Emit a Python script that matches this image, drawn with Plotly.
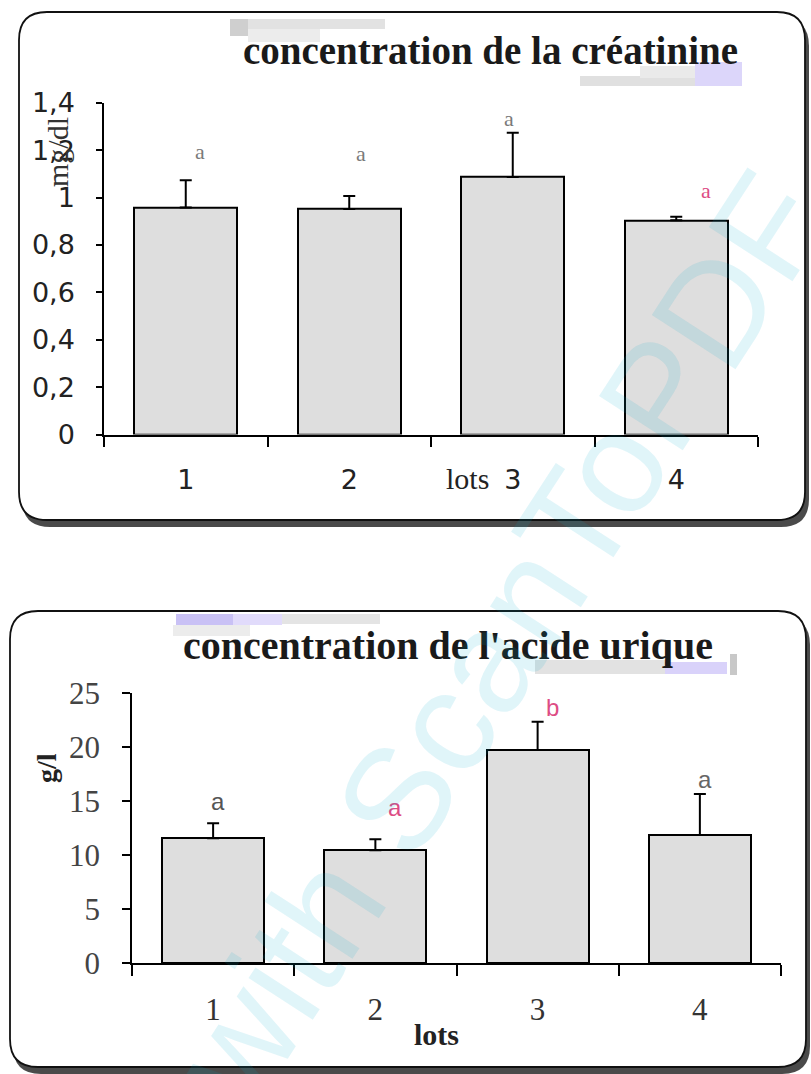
import plotly.graph_objects as go

# ---- data -------------------------------------------------------------
lots = [1, 2, 3, 4]
lot_labels = ["1", "2", "3", "4"]

creat_mean = [0.958, 0.951, 1.087, 0.904]      # mg/dl
creat_err = [0.115, 0.055, 0.186, 0.015]
creat_letters = ["a", "a", "a", "a"]
creat_ticks = [0, 0.2, 0.4, 0.6, 0.8, 1.0, 1.2, 1.4]
creat_ticktext = ["0", "0,2", "0,4", "0,6", "0,8", "1", "1,2", "1,4"]

uric_mean = [11.55, 10.43, 19.72, 11.85]        # g/l
uric_err = [1.39, 1.02, 2.62, 3.80]
uric_letters = ["a", "a", "b", "a"]
uric_ticks = [0, 5, 10, 15, 20, 25]

# ---- page geometry helpers (pixels -> paper) --------------------------
W, H = 811, 1074


def px(x):
    return x / W


def py(y):
    return 1 - y / H


def rounded_rect(x0, y0, x1, y1, r):
    pts = [
        ("M", [(x0 + r, y0)]),
        ("L", [(x1 - r, y0)]),
        ("Q", [(x1, y0), (x1, y0 + r)]),
        ("L", [(x1, y1 - r)]),
        ("Q", [(x1, y1), (x1 - r, y1)]),
        ("L", [(x0 + r, y1)]),
        ("Q", [(x0, y1), (x0, y1 - r)]),
        ("L", [(x0, y0 + r)]),
        ("Q", [(x0, y0), (x0 + r, y0)]),
    ]
    s = ""
    for cmd, ps in pts:
        s += cmd + " " + " ".join(f"{px(a):.5f},{py(b):.5f}" for a, b in ps) + " "
    return s + "Z"


def note(text, x, y, size, family="Liberation Serif", color="#222", angle=0, xref="paper", yref="paper"):
    return dict(text=text, xref=xref, yref=yref, x=x, y=y, textangle=angle,
                xanchor="center", yanchor="middle", showarrow=False,
                font=dict(family=family, size=size, color=color))


BAR_FILL = "#dedede"
PINK = "#dd4c84"
GRAY_TXT = "#7a7a7a"

fig = go.Figure()

fig.add_trace(go.Bar(
    x=lots, y=creat_mean, width=0.63, xaxis="x", yaxis="y",
    marker=dict(color=BAR_FILL, line=dict(color="black", width=2)),
    error_y=dict(type="data", symmetric=False, array=creat_err,
                 arrayminus=[0] * 4, color="black", thickness=2, width=6),
))
fig.add_trace(go.Bar(
    x=lots, y=uric_mean, width=0.63, xaxis="x2", yaxis="y2",
    marker=dict(color=BAR_FILL, line=dict(color="black", width=2)),
    error_y=dict(type="data", symmetric=False, array=uric_err,
                 arrayminus=[0] * 4, color="black", thickness=2, width=6),
))

# ---- panels (rounded frames with drop shadow) ------------------------
shapes = []
for (x0, y0, x1, y1) in [(19, 12, 805, 520), (10, 611, 806, 1067)]:
    shapes.append(dict(type="path", xref="paper", yref="paper", layer="below",
                       path=rounded_rect(x0 + 3, y0 + 6, x1 + 4, y1 + 7, 28),
                       fillcolor="#4a4a4a", line=dict(width=0)))
    shapes.append(dict(type="path", xref="paper", yref="paper", layer="below",
                       path=rounded_rect(x0, y0, x1, y1, 28),
                       fillcolor="white", line=dict(color="#111", width=1.8)))

# faint highlighter marks around the titles
marks = [
    (230, 19, 385, 29, "#e2e2e2"), (230, 19, 248, 36, "#cfcfcf"),
    (248, 29, 320, 42, "#ececec"),
    (580, 76, 695, 86, "#e0e0e0"), (640, 66, 695, 78, "#eaeaea"),
    (695, 62, 742, 86, "#dcd6fa"),
    (176, 614, 233, 625, "#c9c1f5"), (233, 614, 282, 625, "#e1dbfb"),
    (282, 614, 380, 624, "#e4e4e4"), (173, 625, 250, 636, "#ececec"),
    (535, 660, 665, 674, "#e2e2e2"), (665, 662, 727, 674, "#d9d2fa"),
    (730, 654, 737, 675, "#c8c8c8"),
]
for (x0, y0, x1, y1, c) in marks:
    shapes.append(dict(type="rect", xref="paper", yref="paper", layer="below",
                       x0=px(x0), x1=px(x1), y0=py(y1), y1=py(y0),
                       fillcolor=c, line=dict(width=0)))

# ---- annotations -----------------------------------------------------
ann = [
    note("<b>concentration de la créatinine</b>", px(490), py(50), 39, color="#1a1a1a"),
    note("<b>concentration de l'acide urique</b>", px(448), py(645), 40, color="#1a1a1a"),
    note("mg/dl", px(58), py(152), 30, color="#333", angle=-90),
    note("<b>g/l</b>", px(46), py(768), 28, angle=-90),
    note("lots", px(467), py(478), 30),
    note("<b>lots</b>", px(436), py(1034), 30),
]

# significance letters above the error bars
creat_letter_pos = [(0.09, 0.12), (0.07, 0.18), (-0.02, 0.06), (0.18, 0.11)]
creat_letter_col = [GRAY_TXT, GRAY_TXT, GRAY_TXT, PINK]
for i, lot in enumerate(lots):
    dx, dy = creat_letter_pos[i]
    ann.append(note(creat_letters[i], lot + dx, creat_mean[i] + creat_err[i] + dy, 22,
                    color=creat_letter_col[i], xref="x", yref="y"))

uric_letter_pos = [(0.03, 2.0), (0.12, 2.99), (0.09, 1.3), (0.03, 1.35)]
uric_letter_col = ["#555", PINK, PINK, "#666"]
for i, lot in enumerate(lots):
    dx, dy = uric_letter_pos[i]
    ann.append(note(uric_letters[i], lot + dx, uric_mean[i] + uric_err[i] + dy, 24,
                    family="Liberation Sans", color=uric_letter_col[i], xref="x2", yref="y2"))

# scanner watermark
ann.append(note("with ScanToPDF", px(500), py(640), 145, family="Liberation Sans",
                color="rgba(0,175,205,0.12)", angle=-57))

# ---- axes --------------------------------------------------------------
boundaries = [0.5, 1.5, 2.5, 3.5, 4.5]

fig.update_layout(
    width=W, height=H, margin=dict(l=0, r=0, t=0, b=0),
    paper_bgcolor="white", plot_bgcolor="rgba(0,0,0,0)",
    showlegend=False, bargap=0,
    shapes=shapes, annotations=ann,
    xaxis=dict(domain=[px(104), px(758)], anchor="y", range=[0.5, 4.5], automargin=False,
               tickmode="array", tickvals=lots, ticktext=lot_labels,
               ticks="", showgrid=False, zeroline=False,
               showline=True, linecolor="black", linewidth=2,
               minor=dict(tickmode="array", tickvals=boundaries, ticks="outside",
                          ticklen=10, tickwidth=1.5, tickcolor="black", showgrid=False),
               ticklabelstandoff=20,
               tickfont=dict(family="DejaVu Sans", size=27, color="#222")),
    yaxis=dict(domain=[py(434.5), py(102.7)], anchor="x", range=[0, 1.4], automargin=False,
               tickmode="array", tickvals=creat_ticks, ticktext=creat_ticktext,
               ticks="outside", ticklen=6, tickwidth=1.5, tickcolor="black",
               showgrid=False, zeroline=False,
               showline=True, linecolor="black", linewidth=1.5,
               ticklabelstandoff=16,
               tickfont=dict(family="DejaVu Sans", size=27, color="#222")),
    xaxis2=dict(domain=[px(132), px(781)], anchor="y2", range=[0.5, 4.5], automargin=False,
                tickmode="array", tickvals=lots, ticktext=lot_labels,
                ticks="", showgrid=False, zeroline=False,
                showline=True, linecolor="black", linewidth=2,
                minor=dict(tickmode="array", tickvals=boundaries, ticks="outside",
                           ticklen=11, tickwidth=1.5, tickcolor="black", showgrid=False),
                ticklabelstandoff=18,
                tickfont=dict(family="Liberation Serif", size=31, color="#333")),
    yaxis2=dict(domain=[py(963), py(693)], anchor="x2", range=[0, 25], automargin=False,
                tickmode="array", tickvals=uric_ticks,
                ticks="outside", ticklen=8, tickwidth=1.5, tickcolor="black",
                showgrid=False, zeroline=False,
                showline=True, linecolor="black", linewidth=1.5,
                ticklabelstandoff=16,
                tickfont=dict(family="Liberation Serif", size=31, color="#444")),
)

fig.write_html("out.html")
